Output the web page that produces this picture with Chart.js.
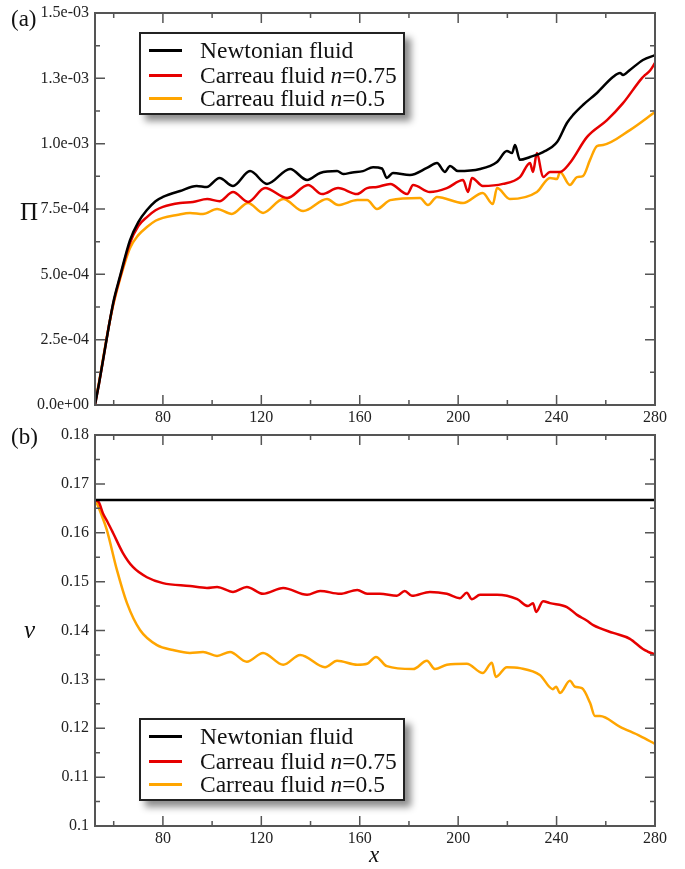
<!DOCTYPE html>
<html>
<head>
<meta charset="utf-8">
<script src="https://cdn.jsdelivr.net/npm/chart.js@4.4.0/dist/chart.umd.min.js"></script>
<style>
  body { margin: 0; background: #fff; }
  #wrap { position: relative; width: 685px; height: 869px; font-family: "Liberation Serif", "Times New Roman", serif; color: #111; }
  canvas { position: absolute; left: 0; }
  .lbl { position: absolute; font-size: 23px; line-height: 1; }
  .legend { position: absolute; left: 139px; width: 262px; height: 79px; border: 2px solid #222; background: #fff; box-shadow: 6px 6px 7px rgba(0,0,0,0.45); }
  .row { position: absolute; left: 0; height: 24px; font-size: 23.5px; line-height: 24px; white-space: nowrap; }
  .swatch { position: absolute; left: 8px; top: 11px; width: 33px; height: 3px; }
  .txt { position: absolute; left: 59px; top: 0; }
</style>
</head>
<body>
<div id="wrap">
  <canvas id="chartA" width="685" height="435" style="top:0"></canvas>
  <canvas id="chartB" width="685" height="454" style="top:415px"></canvas>
  <div class="lbl" style="left:11px;top:7px">(a)</div>
  <div class="lbl" style="left:11px;top:425px">(b)</div>
  <div class="lbl" style="left:20px;top:199px;font-size:25px">Π</div>
  <div class="lbl" style="left:24px;top:617px;font-size:25px;font-style:italic">ν</div>
  <div class="lbl" style="left:369px;top:843px;font-style:italic">x</div>
  <div class="legend" id="legA" style="top:32px"></div>
  <div class="legend" id="legB" style="top:718px"></div>
</div>
<script>
// series names / colours
const names = ['Newtonian fluid', 'Carreau fluid', 'Carreau fluid'];
const nValues = [null, '0.75', '0.5'];
const colors = ['#000000', '#e60000', '#ffa500'];

// axis ticks
const xMin = 52.4, xMax = 280;
const xTicks = [80, 120, 160, 200, 240, 280];
const xMinor = [60, 100, 140, 180, 220, 260];
const yTicksA = [0, 2.5e-4, 5e-4, 7.5e-4, 1e-3, 1.25e-3, 1.5e-3];
const yLabelsA = ['0.0e+00', '2.5e-04', '5.0e-04', '7.5e-04', '1.0e-03', '1.3e-03', '1.5e-03'];
const yMinorA = [1.25e-4, 3.75e-4, 6.25e-4, 8.75e-4, 1.125e-3, 1.375e-3];
const yTicksB = [0.1, 0.11, 0.12, 0.13, 0.14, 0.15, 0.16, 0.17, 0.18];
const yLabelsB = ['0.1', '0.11', '0.12', '0.13', '0.14', '0.15', '0.16', '0.17', '0.18'];
const yMinorB = [0.105, 0.115, 0.125, 0.135, 0.145, 0.155, 0.165, 0.175];

// (a) Pi vs x
const piNewtonian = [[52.4,0],[54,0.8e-4],[56,1.9e-4],[58,3.0e-4],[60,4.0e-4],[62.5,4.9e-4],[66.6,6.3e-4],[70,7.0e-4],
  [73.5,7.46e-4],[77,7.8e-4],[80,7.96e-4],[87,8.19e-4],[93.7,8.38e-4],[97.8,8.34e-4],[103,8.69e-4],[108.5,8.38e-4],
  [115.4,8.95e-4],[122.3,8.46e-4],[131.7,9.03e-4],[138.6,8.61e-4],[143.9,8.88e-4],[150.8,8.95e-4],[153.3,8.84e-4],
  [157,8.9e-4],[161.3,8.95e-4],[165.4,9.1e-4],[169,9.05e-4],[171,8.69e-4],[173.5,8.88e-4],[180.4,8.8e-4],[187.3,9.07e-4],
  [191.4,9.26e-4],[194.6,8.92e-4],[196.7,9.15e-4],[199.9,8.95e-4],[208.9,9.03e-4],[215.8,9.3e-4],[219.8,9.72e-4],
  [221.9,9.64e-4],[223.1,9.95e-4],[225.1,9.38e-4],[229.2,9.49e-4],[234.5,9.68e-4],[240.2,1.006e-3],[244.2,1.079e-3],
  [246.7,1.11e-3],[250.7,1.148e-3],[256.4,1.194e-3],[262.9,1.255e-3],[265.8,1.27e-3],[267,1.263e-3],[269.8,1.282e-3],
  [275.1,1.32e-3],[280,1.339e-3]];
const piCarreau075 = [[52.4,0],[54,0.8e-4],[56,1.9e-4],[58,3.0e-4],[60,3.95e-4],[62.5,4.85e-4],[66.6,6.2e-4],[70,6.85e-4],
  [73.5,7.19e-4],[77,7.45e-4],[80,7.58e-4],[87,7.73e-4],[92.2,7.77e-4],[98,7.88e-4],[103,7.8e-4],[108.5,8.15e-4],
  [114.6,7.77e-4],[121.5,8.3e-4],[130.5,7.92e-4],[139,8.42e-4],[144.7,8.07e-4],[151.2,8.3e-4],[158.9,8.07e-4],
  [163,8.3e-4],[167,8.34e-4],[172.4,8.46e-4],[179.3,8.07e-4],[181.7,8.42e-4],[188.5,8.15e-4],[195.4,8.3e-4],
  [202,8.61e-4],[204,8.15e-4],[205.6,8.69e-4],[210,8.38e-4],[218.2,8.46e-4],[225.1,8.72e-4],[229.2,9.26e-4],
  [230.4,8.92e-4],[232,9.64e-4],[234.5,8.72e-4],[237.3,8.92e-4],[241.4,8.92e-4],[245.4,9.26e-4],[252.4,1.026e-3],
  [260.5,1.09e-3],[267,1.155e-3],[274.7,1.251e-3],[276,1.263e-3],[278,1.28e-3],[280,1.309e-3]];
const piCarreau05 = [[52.4,0.1e-4],[54,0.85e-4],[56,1.95e-4],[58,3.0e-4],[60,3.9e-4],[62.5,4.8e-4],[66.6,6.0e-4],[70,6.5e-4],
  [73.5,6.81e-4],[77,7.05e-4],[80,7.16e-4],[85.7,7.27e-4],[91,7.35e-4],[96.3,7.31e-4],[102,7.5e-4],[108,7.31e-4],
  [114.6,7.73e-4],[120.7,7.35e-4],[128.9,7.88e-4],[137,7.42e-4],[146.7,7.88e-4],[151.2,7.65e-4],[159,7.84e-4],
  [163,7.84e-4],[167,7.5e-4],[172.4,7.84e-4],[184.5,7.92e-4],[187.7,7.65e-4],[191.4,7.96e-4],[202,7.73e-4],
  [210,8.11e-4],[214.1,7.69e-4],[215.8,8.3e-4],[221,7.88e-4],[232,8.15e-4],[237.3,8.69e-4],[240.2,8.65e-4],
  [241.4,8.92e-4],[245.4,8.42e-4],[248.3,8.72e-4],[250.7,8.76e-4],[253.6,9.38e-4],[256.4,9.91e-4],[258.9,9.95e-4],
  [269.8,1.052e-3],[280,1.121e-3]];

// (b) nu vs x
const nuNewtonian = [[52.4,0.1667],[280,0.1667]];
const nuCarreau075 = [[52.4,0.1667],[54,0.1662],[55.6,0.164],[57.5,0.1622],[59.7,0.16],[63.7,0.1559],[67.8,0.153],
  [73.5,0.1509],[80,0.1497],[91,0.1491],[97.9,0.1487],[102,0.1489],[108.5,0.1479],[114.1,0.1489],[120.7,0.1475],
  [128.9,0.1487],[138.6,0.1473],[143.9,0.1481],[152,0.1475],[159,0.1483],[163,0.1475],[168.2,0.1475],[175.1,0.1471],
  [178.3,0.1481],[181.2,0.1471],[188.5,0.1479],[195.4,0.1475],[200.7,0.1466],[203.5,0.1477],[205.6,0.1464],
  [208.9,0.1473],[215.8,0.1473],[224,0.1464],[228.4,0.145],[230.4,0.1456],[231.7,0.1438],[234.5,0.146],[237.3,0.1456],
  [244.2,0.1448],[248.3,0.1432],[252.4,0.142],[254.9,0.1411],[263,0.1395],[269.8,0.1383],[275.1,0.1362],[277,0.1357],
  [280,0.1351]];
const nuCarreau05 = [[52.4,0.1667],[53.2,0.166],[55,0.1637],[57.2,0.1606],[61.3,0.1524],[65.4,0.1456],[70.7,0.1401],
  [77.6,0.137],[84.1,0.136],[91,0.1354],[96.3,0.1356],[102,0.1348],[107.3,0.1356],[114.1,0.1336],[120.7,0.1354],
  [128.9,0.133],[135.8,0.135],[145.9,0.1325],[150.8,0.1338],[159,0.133],[163,0.1332],[166.6,0.1346],[171,0.1327],
  [181.7,0.1321],[187.3,0.1338],[190.6,0.1321],[195.4,0.133],[203.5,0.1332],[210,0.1313],[213.7,0.1334],[215.3,0.1305],
  [219.8,0.1325],[225.1,0.1323],[233.2,0.1309],[238.5,0.128],[239.8,0.1285],[241.4,0.1272],[245.4,0.1297],
  [247.5,0.1285],[250.3,0.1282],[253.6,0.1252],[255.6,0.1225],[257.6,0.1225],[265.8,0.1203],[274,0.1184],[280,0.1168]];

const serif = '"Liberation Serif", "Times New Roman", serif';

// frame + inward ticks on all four sides
const frameTicks = {
  id: 'frameTicks',
  afterDraw(chart, args, opts) {
    const { ctx, chartArea: a, scales: { x, y } } = chart;
    ctx.save();
    ctx.strokeStyle = '#555';
    ctx.lineWidth = 1.5;
    ctx.beginPath();
    const vt = (v, len) => {
      const p = x.getPixelForValue(v);
      ctx.moveTo(p, a.bottom); ctx.lineTo(p, a.bottom - len);
      ctx.moveTo(p, a.top); ctx.lineTo(p, a.top + len);
    };
    const ht = (v, len) => {
      const p = y.getPixelForValue(v);
      ctx.moveTo(a.left, p); ctx.lineTo(a.left + len, p);
      ctx.moveTo(a.right, p); ctx.lineTo(a.right - len, p);
    };
    xTicks.forEach(v => vt(v, 10));
    xMinor.forEach(v => vt(v, 5));
    opts.yMajor.forEach(v => ht(v, 10));
    opts.yMinor.forEach(v => ht(v, 5));
    ctx.stroke();
    ctx.lineWidth = 2;
    ctx.strokeRect(a.left, a.top, a.right - a.left, a.bottom - a.top);
    ctx.restore();
  }
};

function makeChart(id, series, yMin, yMax, yMajor, yLabels, yMinor, padTop, xHeight) {
  return new Chart(document.getElementById(id), {
    type: 'line',
    data: {
      datasets: series.map((s, i) => ({
        label: names[i],
        data: s.map(p => ({ x: p[0], y: p[1] })),
        borderColor: colors[i],
        borderWidth: 2.5,
        pointRadius: 0,
        fill: false,
        cubicInterpolationMode: 'monotone'
      }))
    },
    options: {
      responsive: false,
      animation: false,
      devicePixelRatio: 1,
      events: [],
      layout: { padding: { top: padTop, right: 30, left: 0, bottom: 0 } },
      plugins: {
        legend: { display: false },
        tooltip: { enabled: false },
        frameTicks: { yMajor: yMajor, yMinor: yMinor }
      },
      scales: {
        x: {
          type: 'linear',
          min: xMin, max: xMax,
          grid: { display: false, drawTicks: false },
          border: { display: false },
          afterBuildTicks: s => { s.ticks = xTicks.map(v => ({ value: v })); },
          afterFit: s => { s.height = xHeight; s.paddingLeft = 0; s.paddingRight = 0; },
          ticks: { autoSkip: false, maxRotation: 0, padding: 3, color: '#222', font: { family: serif, size: 16 } }
        },
        y: {
          min: yMin, max: yMax,
          grid: { display: false, drawTicks: false },
          border: { display: false },
          afterBuildTicks: s => { s.ticks = yMajor.map(v => ({ value: v })); },
          afterFit: s => { s.width = 95; s.paddingTop = 0; s.paddingBottom = 0; },
          ticks: {
            autoSkip: false, padding: 6, color: '#222', font: { family: serif, size: 16 },
            callback: (v, i) => yLabels[i]
          }
        }
      }
    },
    plugins: [frameTicks]
  });
}

makeChart('chartA', [piNewtonian, piCarreau075, piCarreau05], 0, 1.5e-3, yTicksA, yLabelsA, yMinorA, 13, 30);
makeChart('chartB', [nuNewtonian, nuCarreau075, nuCarreau05], 0.1, 0.18, yTicksB, yLabelsB, yMinorB, 20, 43);

// legends
const rowTops = [4, 29, 52];
['legA', 'legB'].forEach(id => {
  const box = document.getElementById(id);
  names.forEach((n, i) => {
    const row = document.createElement('div');
    row.className = 'row';
    row.style.top = rowTops[i] + 'px';
    const sw = document.createElement('span');
    sw.className = 'swatch';
    sw.style.background = colors[i];
    const tx = document.createElement('span');
    tx.className = 'txt';
    tx.innerHTML = n + (nValues[i] ? ' <i>n</i>=' + nValues[i] : '');
    row.appendChild(sw);
    row.appendChild(tx);
    box.appendChild(row);
  });
});
</script>
</body>
</html>
